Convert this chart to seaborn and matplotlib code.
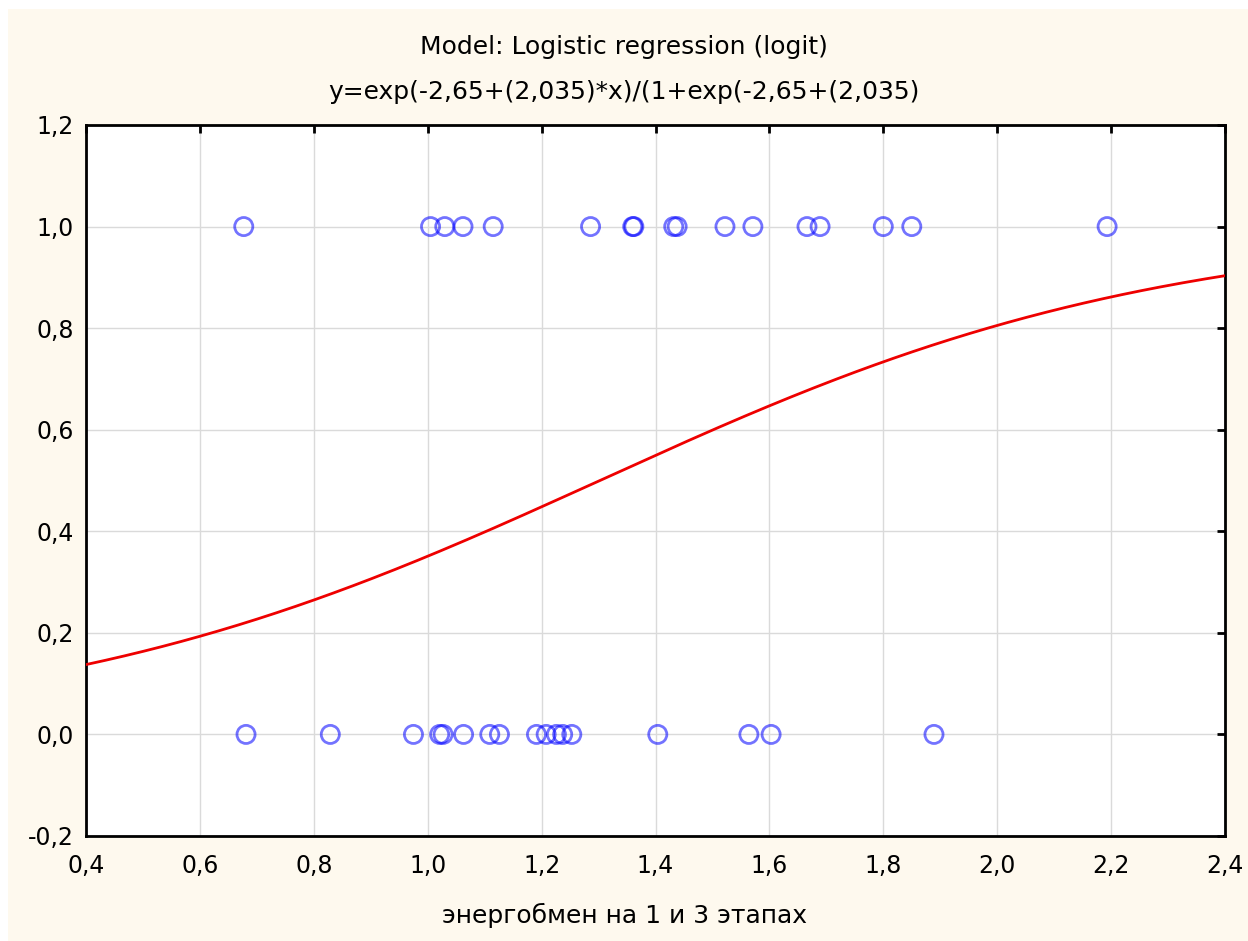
import matplotlib
matplotlib.use("Agg")
import matplotlib.pyplot as plt
import seaborn as sns
import numpy as np
import pandas as pd
from matplotlib.patches import Rectangle
from matplotlib.ticker import FuncFormatter, MultipleLocator

# ── Data ───────────────────────────────────────────────────────
x_one = [0.677, 1.005, 1.030, 1.062, 1.115, 1.286, 1.360, 1.362, 1.432,
         1.438, 1.522, 1.571, 1.666, 1.689, 1.800, 1.850, 2.193]
x_zero = [0.681, 0.829, 0.975, 1.021, 1.027, 1.063, 1.109, 1.126, 1.191,
          1.208, 1.226, 1.237, 1.253, 1.404, 1.564, 1.603, 1.889]

# model coefficients from the title
b0 = -2.65
b1 = 2.035

title_1 = "Model: Logistic regression (logit)"
title_2 = "y=exp(-2,65+(2,035)*x)/(1+exp(-2,65+(2,035)"
x_label = "энергобмен на 1 и 3 этапах"

points = pd.DataFrame({
    "x": x_one + x_zero,
    "y": [1.0] * len(x_one) + [0.0] * len(x_zero),
})
curve_x = np.linspace(0.4, 2.4, 300)
curve = pd.DataFrame({"x": curve_x,
                      "y": np.exp(b0 + b1 * curve_x) / (1 + np.exp(b0 + b1 * curve_x))})

# ── Style ──────────────────────────────────────────────────────
sns.set_style("white")
plt.rcParams['font.family'] = ['DejaVu Sans']
plt.rcParams['text.color'] = 'black'
plt.rcParams['xtick.color'] = 'black'
plt.rcParams['ytick.color'] = 'black'

fig = plt.figure(figsize=(12.48, 9.41), dpi=100)
fig.patch.set_facecolor("white")
fig.patches.append(Rectangle((8 / 1248, 0), 1, 1 - 9 / 941, transform=fig.transFigure,
                             facecolor="#FEF9EE", edgecolor="none", zorder=-10))

ax = fig.add_axes([86 / 1248, 1 - 836 / 941, (1225 - 86) / 1248, (836 - 125) / 941])
ax.set_facecolor("white")

sns.lineplot(data=curve, x="x", y="y", ax=ax, color="#EE0000", linewidth=2, zorder=3)
sns.scatterplot(data=points, x="x", y="y", ax=ax, marker="o", s=170,
                facecolors="none", edgecolor=(0.0, 0.0, 1.0, 0.55),
                linewidth=2, zorder=4)

ax.set_xlim(0.4, 2.4)
ax.set_ylim(-0.2, 1.2)
ax.xaxis.set_major_locator(MultipleLocator(0.2))
ax.yaxis.set_major_locator(MultipleLocator(0.2))
fmt = FuncFormatter(lambda v, p: f"{v:.1f}".replace(".", ",").replace("-0,0", "0,0"))
ax.xaxis.set_major_formatter(fmt)
ax.yaxis.set_major_formatter(fmt)

ax.grid(True, color="#DADADA", linewidth=1)
for s in ax.spines.values():
    s.set_visible(True)
    s.set_color("black")
    s.set_linewidth(2)
ax.tick_params(direction="in", length=6, width=2, labelsize=17, color="black",
               labelcolor="black", top=True, right=True)
ax.tick_params(axis="y", pad=9)
ax.tick_params(axis="x", pad=13)

ax.set_xlabel("")
ax.set_ylabel("")
fig.text(0.5, 1 - 47 / 941, title_1, ha="center", va="center", fontsize=18)
fig.text(0.5, 1 - 92 / 941, title_2, ha="center", va="center", fontsize=18)
fig.text(0.5, 1 - 915 / 941, x_label, ha="center", va="center", fontsize=18)

fig.savefig("out.png", dpi=100)
